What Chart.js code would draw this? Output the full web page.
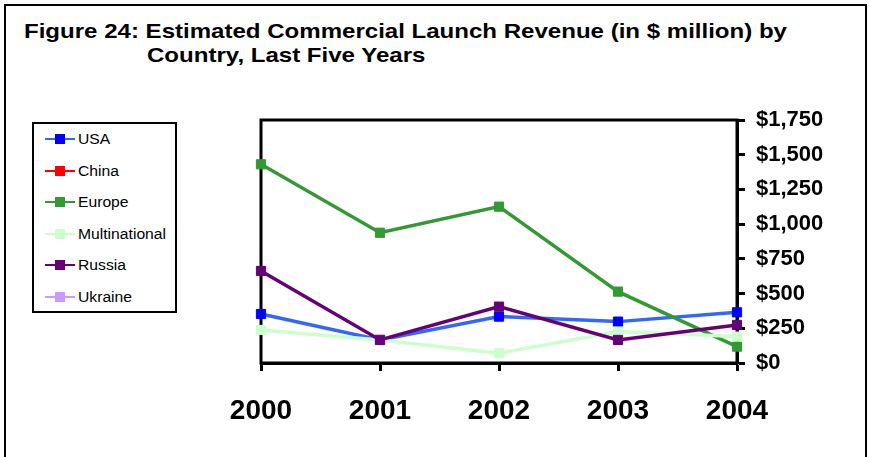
<!DOCTYPE html>
<html>
<head>
<meta charset="utf-8">
<script src="https://cdn.jsdelivr.net/npm/chart.js@4.4.1/dist/chart.umd.min.js"></script>
<style>
  html, body { margin: 0; padding: 0; background: #fff; }
  #wrap { position: relative; width: 870px; height: 457px; overflow: hidden; font-family: 'Liberation Sans', Arial, sans-serif; }
  #frame { position: absolute; left: 4px; top: 4px; width: 859px; height: 480px; border: 2px solid #000; box-sizing: content-box; }
  .title { position: absolute; font-weight: bold; font-size: 21px; line-height: 21px; white-space: nowrap; transform-origin: 0 0; color: #000; }
  #legend { position: absolute; left: 32px; top: 122px; width: 141px; height: 187px; border: 2px solid #000; }
  .li { position: absolute; left: 0; height: 20px; width: 141px; }
  .li .ln { position: absolute; left: 11px; width: 30px; height: 2px; top: 9px; }
  .li .mk { position: absolute; left: 21px; width: 10px; height: 10px; top: 5px; }
  .li .tx { position: absolute; left: 44px; top: 1px; font-size: 14px; line-height: 18px; white-space: nowrap; transform-origin: 0 50%; transform: scaleX(1.12); }
  canvas { position: absolute; left: 0; top: 0; }
</style>
</head>
<body>
<div id="wrap">
  <div id="frame"></div>
  <div class="title" id="t1" style="left:24px; top:20px;">Figure 24: Estimated Commercial Launch Revenue (in $ million) by</div>
  <div class="title" id="t2" style="left:147px; top:44px;">Country, Last Five Years</div>
  <div id="legend"></div>
  <canvas id="c" width="870" height="457"></canvas>
</div>
<script>
// ---- data ----
const years = ['2000', '2001', '2002', '2003', '2004'];
const seriesNames = ['USA', 'China', 'Europe', 'Multinational', 'Russia', 'Ukraine'];
const usa = [353, 166, 334, 298, 365];
const china = [null, null, null, null, null];
const europe = [1431, 938, 1126, 514, 118];
const multinational = [238, 166, 70, 226, 190];
const russia = [663, 166, 406, 166, 274];
const ukraine = [null, null, null, null, null];
const yTicks = [0, 250, 500, 750, 1000, 1250, 1500, 1750];

// ---- styles ----
const lineColors = ['#3366FF', '#FF0000', '#339933', '#CCFFCC', '#660077', '#CC99FF'];
const markColors = ['#0000FF', '#FF0000', '#339933', '#CCFFCC', '#660077', '#CC99FF'];
const seriesValues = [usa, china, europe, multinational, russia, ukraine];

// scale titles to match reference widths
const t1 = document.getElementById('t1');
const t2 = document.getElementById('t2');
const sx = 763 / t1.getBoundingClientRect().width;
t1.style.transform = 'scaleX(' + sx + ')';
t2.style.transform = 'scaleX(' + sx + ')';

// HTML legend from series
const leg = document.getElementById('legend');
seriesNames.forEach((n, i) => {
  const d = document.createElement('div');
  d.className = 'li';
  d.style.top = (5 + i * 31.6) + 'px';
  d.innerHTML = '<div class="ln" style="background:' + lineColors[i] + '"></div>' +
    '<div class="mk" style="background:' + markColors[i] + '"></div>' +
    '<div class="tx">' + n + '</div>';
  leg.appendChild(d);
});

const framePlugin = {
  id: 'frame',
  beforeDatasetsDraw(chart) {
    const a = chart.chartArea, ctx = chart.ctx;
    ctx.save();
    ctx.strokeStyle = '#000';
    ctx.lineWidth = 3;
    ctx.strokeRect(a.left, a.top, a.right - a.left, a.bottom - a.top);
    ctx.restore();
  }
};

const datasets = seriesNames.map((n, i) => ({
  label: n,
  data: seriesValues[i],
  borderColor: lineColors[i],
  backgroundColor: markColors[i],
  pointBackgroundColor: markColors[i],
  pointBorderColor: markColors[i],
  pointStyle: 'rect',
  pointRadius: 6.5,
  pointBorderWidth: 1,
  borderWidth: 3.5,
  tension: 0,
  clip: false,
  order: seriesNames.length - i
}));

new Chart(document.getElementById('c'), {
  type: 'line',
  data: { labels: years, datasets },
  plugins: [framePlugin],
  options: {
    responsive: false,
    animation: false,
    layout: { padding: { left: 261, top: 120, right: 0, bottom: 0 } },
    plugins: { legend: { display: false }, tooltip: { enabled: false } },
    scales: {
      x: {
        offset: false,
        afterFit(s) { s.height = 94; },
        grid: { drawOnChartArea: false, drawTicks: true, tickLength: 8, tickWidth: 3, tickColor: '#000' },
        border: { display: true, color: '#000', width: 3 },
        ticks: { color: '#000', font: { family: 'Liberation Sans', size: 28, weight: 'bold' }, padding: 23, maxRotation: 0, autoSkip: false }
      },
      y: {
        position: 'right',
        min: 0, max: 1750,
        afterFit(s) { s.width = 133; },
        afterBuildTicks(s) { s.ticks = yTicks.map(v => ({ value: v })); },
        grid: { drawOnChartArea: false, drawTicks: true, tickLength: 8, tickWidth: 3, tickColor: '#000' },
        border: { display: true, color: '#000', width: 3 },
        ticks: { color: '#000', font: { family: 'Liberation Sans', size: 22, weight: 'bold' }, padding: 11,
          callback: v => '$' + Number(v).toLocaleString('en-US') }
      }
    }
  }
});
</script>
</body>
</html>
